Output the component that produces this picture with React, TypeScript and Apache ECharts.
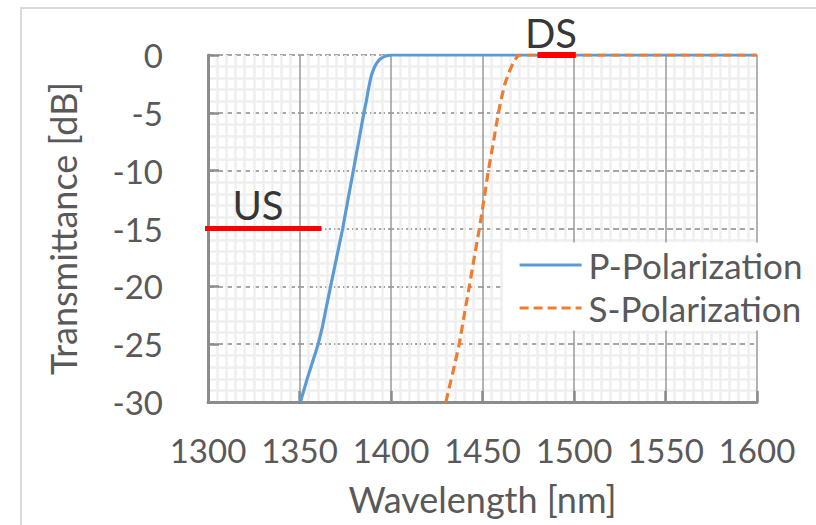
import React, { useEffect, useRef } from "react";
import * as echarts from "echarts";

// P-polarization transmittance curve
const pWavelength = [1350.5, 1354.2, 1357.2, 1360.2, 1362.4, 1364.4, 1367, 1370.3, 1373.6, 1376.5, 1379.4, 1382.3, 1385.2, 1386.5, 1387.6, 1388.5, 1389.4, 1390.8, 1392.2, 1394, 1396, 1398, 1400, 1450, 1500, 1550, 1600];
const pTrans = [-30, -28, -26.5, -25, -23.6, -22, -20, -17.5, -15, -12.5, -10, -7.5, -5, -4, -3, -2.3, -1.7, -1.1, -0.7, -0.35, -0.15, -0.05, 0, 0, 0, 0, 0];

// S-polarization transmittance curve
const sWavelength = [1430, 1433.7, 1437.3, 1440, 1442.8, 1445.5, 1448.3, 1450.8, 1453.2, 1456, 1458.7, 1460.1, 1462.3, 1465, 1467, 1469, 1470, 1500, 1550, 1600];
const sTrans = [-30, -27.5, -25, -22.5, -20, -17.5, -15, -12.5, -10, -7.5, -5, -3.9, -2.45, -1.3, -0.6, -0.14, 0, 0, 0, 0];

// Band markers
const usBandX = [1296, 1362];
const usBandY = [-15, -15];
const dsBandX = [1480, 1501];
const dsBandY = [0, 0];

// Band labels
const bandLabels = ["US", "DS"];
const bandLabelX = [1327.3, 1487.4];
const bandLabelY = [-13.0, 1.9];

const xTicks = { min: 1300, max: 1600, interval: 50 };
const yTicks = { min: -30, max: 0, interval: 5 };

const FONT = "Lato, 'Open Sans', sans-serif";

export default function App() {
  const ref = useRef<HTMLDivElement>(null);
  useEffect(() => {
    if (!ref.current) return;
    const chart = echarts.init(ref.current, null, { renderer: "svg" });
    const zip = (xs: number[], ys: number[]) => xs.map((x, i) => [x, ys[i]]);
    chart.setOption({
      animation: false,
      backgroundColor: "#ffffff",
      textStyle: { fontFamily: FONT },
      graphic: [
        {
          type: "rect",
          shape: { x: 21, y: 8, width: 900, height: 700 },
          style: { fill: "none", stroke: "#d9d9d9", lineWidth: 2 },
          z: -10,
          silent: true,
        },
      ],
      grid: { left: 208, top: 55, right: 59, bottom: 123, containLabel: false },
      legend: {
        orient: "vertical",
        left: 503,
        top: 242.5,
        padding: [5, 5, 5, 15],
        itemWidth: 62,
        itemHeight: 14,
        itemGap: 8,
        backgroundColor: "#ffffff",
        data: ["P-Polarization", "S-Polarization"],
        itemStyle: { opacity: 0 },
        lineStyle: { width: 3.2 },
        textStyle: { color: "#595959", fontSize: 35, fontFamily: FONT, lineHeight: 30, padding: [0, 0, 0, 2] },
      },
      xAxis: {
        type: "value",
        min: xTicks.min,
        max: xTicks.max,
        interval: xTicks.interval,
        name: "Wavelength [nm]",
        nameLocation: "middle",
        nameGap: 79,
        nameTextStyle: { color: "#595959", fontSize: 36, fontFamily: FONT },
        axisLine: { show: true, onZero: false, lineStyle: { color: "#8c8c8c", width: 3 } },
        axisTick: { show: true, inside: true, length: 11, lineStyle: { color: "#8c8c8c", width: 2.5 } },
        axisLabel: { color: "#595959", fontSize: 33, fontFamily: FONT, margin: 31, formatter: (v: number) => String(v) },
        splitLine: { show: true, lineStyle: { color: "#9a9a9a", width: 1.5, type: "solid" } },
        minorTick: { show: false, splitNumber: 10 },
        minorSplitLine: { show: true, lineStyle: { color: "#efefef", width: 2.5 } },
      },
      yAxis: {
        type: "value",
        min: yTicks.min,
        max: yTicks.max,
        interval: yTicks.interval,
        name: "Transmittance [dB]",
        nameLocation: "middle",
        nameGap: 127,
        nameTextStyle: { color: "#595959", fontSize: 36, fontFamily: FONT },
        axisLine: { show: true, onZero: false, lineStyle: { color: "#8c8c8c", width: 3 } },
        axisTick: { show: true, inside: true, length: 11, lineStyle: { color: "#8c8c8c", width: 2.5 } },
        axisLabel: { color: "#595959", fontSize: 33, fontFamily: FONT, margin: 45, formatter: (v: number) => String(v) },
        splitLine: { show: true, lineStyle: { color: "#8a8a8a", width: 1.5, type: [6, 3] } },
        minorTick: { show: false, splitNumber: 5 },
        minorSplitLine: { show: true, lineStyle: { color: "#efefef", width: 2.5 } },
      },
      series: [
        {
          name: "P-Polarization",
          type: "line",
          data: zip(pWavelength, pTrans),
          symbol: "none",
          lineStyle: { color: "#5B9BD5", width: 3.2 },
          itemStyle: { color: "#5B9BD5" },
          z: 3,
        },
        {
          name: "S-Polarization",
          type: "line",
          data: zip(sWavelength, sTrans),
          symbol: "none",
          lineStyle: { color: "#ED7D31", width: 3.2, type: [9, 5] },
          itemStyle: { color: "#ED7D31" },
          z: 4,
        },
        {
          name: "US band",
          type: "line",
          data: zip(usBandX, usBandY),
          symbol: "none",
          clip: false,
          lineStyle: { color: "#ff0000", width: 5 },
          z: 6,
          silent: true,
        },
        {
          name: "DS band",
          type: "line",
          data: zip(dsBandX, dsBandY),
          symbol: "none",
          clip: false,
          lineStyle: { color: "#ff0000", width: 6 },
          z: 6,
          silent: true,
        },
        {
          name: "band labels",
          type: "scatter",
          clip: false,
          symbolSize: 0,
          data: bandLabels.map((n, i) => ({ name: n, value: [bandLabelX[i], bandLabelY[i]] })),
          label: {
            show: true,
            position: "inside",
            formatter: "{b}",
            color: "#000000",
            fontSize: 40,
            fontFamily: FONT,
          },
          z: 7,
          silent: true,
        },
      ],
    });
    return () => chart.dispose();
  }, []);
  return (
    <div
      ref={ref}
      style={{ position: "fixed", left: 0, top: 0, width: 816, height: 525 }}
    />
  );
}
